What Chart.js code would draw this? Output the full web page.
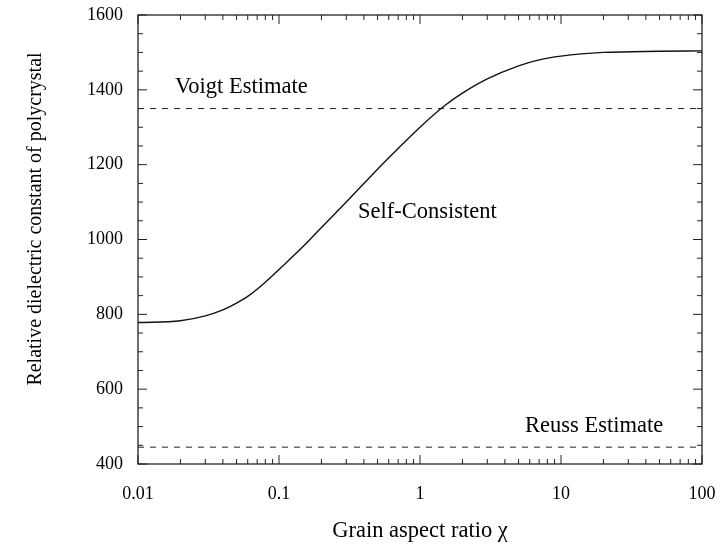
<!DOCTYPE html>
<html>
<head>
<meta charset="utf-8">
<script src="https://cdn.jsdelivr.net/npm/chart.js@4/dist/chart.umd.min.js"></script>
<style>
  html, body { margin: 0; padding: 0; background: #fff; }
  #wrap { width: 720px; height: 546px; }
</style>
</head>
<body>
<div id="wrap"><canvas id="chart" width="720" height="546"></canvas></div>
<script>
// aspect ratio values (log axis) and the self-consistent curve
const aspectRatio = [0.01, 0.02, 0.03, 0.04, 0.05, 0.06, 0.08, 0.1, 0.15, 0.2, 0.3, 0.5, 0.7, 1, 1.5, 2, 3, 5, 7, 10, 20, 50, 100];
const selfConsistent = [778, 783, 796, 812, 830, 848, 886, 920, 983, 1032, 1100, 1188, 1243, 1300, 1358, 1391, 1429, 1464, 1480, 1490, 1500, 1503, 1504];

const boundsX = [0.01, 100];
const voigtValue = 1350;
const reussValue = 445;

const xTicks = [0.01, 0.1, 1, 10, 100];
const yTicks = [400, 600, 800, 1000, 1200, 1400, 1600];

const labelTexts = ['Voigt Estimate', 'Self-Consistent', 'Reuss Estimate'];
const labelX = [0.0183, 0.363, 5.56];
const labelY = [1392, 1057, 486];

const serif = "'Liberation Serif', 'DejaVu Serif', serif";
const ink = '#000';

const frameAndLabels = {
  id: 'frameAndLabels',
  afterDatasetsDraw(chart) {
    const { ctx, chartArea: a, scales: { x, y } } = chart;
    ctx.save();
    ctx.strokeStyle = '#222';
    ctx.lineWidth = 1.3;
    ctx.strokeRect(a.left, a.top, a.right - a.left, a.bottom - a.top);

    // inward ticks on all four sides
    const tickX = (px, len) => {
      ctx.beginPath();
      ctx.moveTo(px, a.bottom); ctx.lineTo(px, a.bottom - len);
      ctx.moveTo(px, a.top); ctx.lineTo(px, a.top + len);
      ctx.stroke();
    };
    const tickY = (py, len) => {
      ctx.beginPath();
      ctx.moveTo(a.left, py); ctx.lineTo(a.left + len, py);
      ctx.moveTo(a.right, py); ctx.lineTo(a.right - len, py);
      ctx.stroke();
    };
    ctx.lineWidth = 1;
    xTicks.forEach((v, i) => {
      tickX(x.getPixelForValue(v), 9);
      if (i < xTicks.length - 1) {
        for (let m = 2; m < 10; m++) tickX(x.getPixelForValue(v * m), 5);
      }
    });
    for (let v = 400; v <= 1600; v += 50) {
      tickY(y.getPixelForValue(v), v % 200 === 0 ? 9 : 5);
    }

    ctx.fillStyle = ink;
    ctx.font = '22.5px ' + serif;
    ctx.textAlign = 'left';
    ctx.textBaseline = 'alphabetic';
    labelTexts.forEach((t, i) => {
      ctx.fillText(t, x.getPixelForValue(labelX[i]), y.getPixelForValue(labelY[i]));
    });

    // axis titles
    ctx.textAlign = 'center';
    ctx.font = '22.5px ' + serif;
    ctx.fillText('Grain aspect ratio \u03c7', (a.left + a.right) / 2, 537);
    ctx.save();
    ctx.translate(41, 219);
    ctx.rotate(-Math.PI / 2);
    ctx.font = '20px ' + serif;
    ctx.fillText('Relative dielectric constant of polycrystal', 0, 0);
    ctx.restore();
    ctx.restore();
  }
};

new Chart(document.getElementById('chart'), {
  type: 'line',
  data: {
    datasets: [
      {
        label: 'Self-Consistent',
        data: aspectRatio.map((v, i) => ({ x: v, y: selfConsistent[i] })),
        borderColor: '#111',
        borderWidth: 1.4,
        pointRadius: 0,
        cubicInterpolationMode: 'monotone'
      },
      {
        label: 'Voigt Estimate',
        data: boundsX.map((v) => ({ x: v, y: voigtValue })),
        borderColor: '#222',
        borderWidth: 1,
        borderDash: [6, 6],
        pointRadius: 0
      },
      {
        label: 'Reuss Estimate',
        data: boundsX.map((v) => ({ x: v, y: reussValue })),
        borderColor: '#222',
        borderWidth: 1,
        borderDash: [6, 6],
        pointRadius: 0
      }
    ]
  },
  options: {
    responsive: false,
    devicePixelRatio: 1,
    animation: false,
    layout: { padding: { top: 15, right: 18, left: 0, bottom: 0 } },
    plugins: { legend: { display: false }, tooltip: { enabled: false } },
    scales: {
      x: {
        type: 'logarithmic',
        min: 0.01,
        max: 100,
        afterBuildTicks: (scale) => { scale.ticks = xTicks.map((v) => ({ value: v })); },
        afterFit: (scale) => { scale.height = 82; scale.paddingLeft = 0; scale.paddingRight = 0; },
        grid: { display: false, drawTicks: false },
        border: { display: false },
        ticks: {
          color: ink,
          font: { family: serif, size: 18 },
          padding: 19,
          maxRotation: 0,
          autoSkip: false,
          callback: (v) => String(v)
        }
      },
      y: {
        type: 'linear',
        min: 400,
        max: 1600,
        afterBuildTicks: (scale) => { scale.ticks = yTicks.map((v) => ({ value: v })); },
        afterFit: (scale) => { scale.width = 138; scale.paddingTop = 0; scale.paddingBottom = 0; },
        grid: { display: false, drawTicks: false },
        border: { display: false },
        ticks: {
          color: ink,
          font: { family: serif, size: 18 },
          padding: 15,
          callback: (v) => String(v)
        }
      }
    }
  },
  plugins: [frameAndLabels]
});
</script>
</body>
</html>
